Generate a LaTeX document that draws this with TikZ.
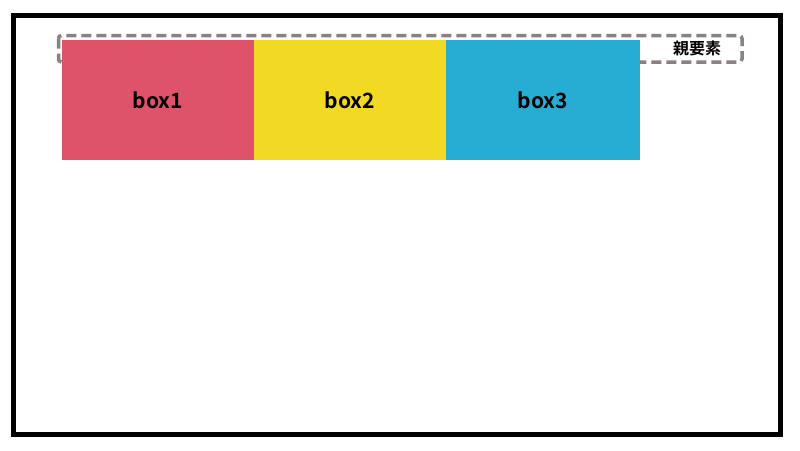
\documentclass[tikz,border=0pt]{standalone}
\usepackage{fontspec}
\newfontfamily\jpfont{Noto Sans CJK JP}[BoldFont={Noto Sans CJK JP Bold}]
\definecolor{cred}{RGB}{222,82,106}
\definecolor{cyel}{RGB}{242,217,36}
\definecolor{cblu}{RGB}{39,172,211}
\definecolor{cgry}{RGB}{140,128,128}
\tikzset{
  outerbox/.style={draw=black, line width=4.5pt},
  parentbox/.style={draw=cgry, line width=3.5pt, dash pattern=on 10pt off 5pt, rounded corners=3pt},
  itembox/.style={minimum width=192pt, minimum height=120pt, inner sep=0pt, outer sep=0pt, font=\jpfont\bfseries\fontsize{21}{23}\selectfont, text=black},
  lbl/.style={font=\jpfont\bfseries\fontsize{16}{18}\selectfont, text=black, inner sep=0pt}
}
\begin{document}
\begin{tikzpicture}[x=1pt,y=-1pt]
\useasboundingbox (0,0) rectangle (800,450);
\fill[white] (0,0) rectangle (800,450);
\draw[outerbox] (13.5,15.5) rectangle (780.5,434.5);
\draw[parentbox] (58.5,35.5) rectangle (742,62);
\node[lbl] (p) at (697,48.5) {親要素};
\node[itembox, fill=cred, anchor=north west] (b1) at (62,40) {box1};
\node[itembox, fill=cyel, anchor=north west] (b2) at (254,40) {box2};
\node[itembox, fill=cblu, minimum width=194pt, anchor=north west] (b3) at (446,40) {box3};
\end{tikzpicture}
\end{document}
